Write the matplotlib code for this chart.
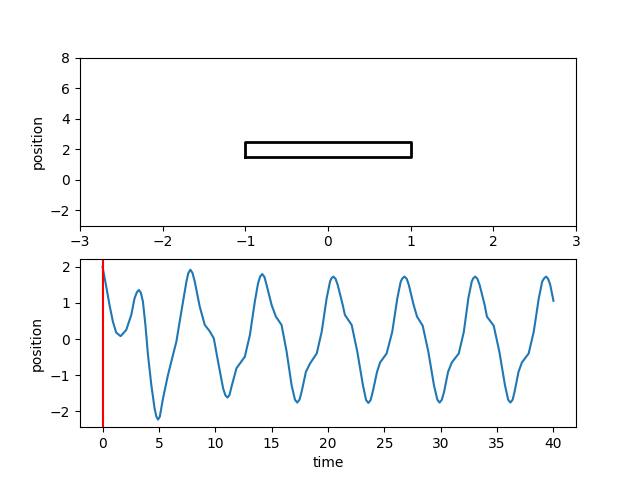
import matplotlib
matplotlib.use("Agg")
import matplotlib.pyplot as plt

# bloque (rectangulo) en el panel superior
bloque_x = [-1, 1, 1, -1, -1]
bloque_y = [1.5, 1.5, 2.5, 2.5, 1.5]

# posicion frente al tiempo
tiempo = [
    0.0, 0.33, 0.62, 0.92, 1.21, 1.6, 2.1, 2.55, 2.84, 3.05, 3.23, 3.4, 3.58, 3.8,
    4.03, 4.33, 4.62, 4.78, 4.92, 5.08, 5.36, 5.8, 6.25, 6.55, 6.99, 7.44, 7.6,
    7.79, 7.98, 8.18, 8.62, 9.07, 9.5, 9.87, 10.25, 10.7, 10.9, 11.08, 11.26,
    11.44, 11.88, 12.18, 12.62, 13.07, 13.51, 13.8, 13.98, 14.16, 14.36, 14.55,
    15.0, 15.38, 15.88, 16.33, 16.77, 17.07, 17.27, 17.47, 17.66, 18.04, 18.4,
    19.0, 19.44, 19.88, 20.18, 20.3, 20.47, 20.67, 20.86, 21.31, 21.5, 22.1,
    22.6, 23.1, 23.38, 23.58, 23.78, 23.97, 24.35, 24.62, 25.2, 25.7, 26.15,
    26.45, 26.6, 26.78, 26.98, 27.17, 27.6, 27.9, 28.4, 28.9, 29.4, 29.7, 29.9,
    30.1, 30.3, 30.65, 30.98, 31.6, 32.05, 32.45, 32.75, 32.88, 33.05, 33.25,
    33.45, 33.9, 34.1, 34.7, 35.2, 35.7, 35.98, 36.18, 36.38, 36.55, 36.9,
    37.2, 37.8, 38.25, 38.7, 39.0, 39.17, 39.35, 39.52, 39.7, 40.0,
]
posicion = [
    2.00, 1.45, 0.94, 0.48, 0.18, 0.08, 0.25, 0.67, 1.13, 1.30, 1.36, 1.28, 1.04, 0.40,
    -0.44, -1.28, -1.93, -2.15, -2.23, -2.15, -1.65, -1.00, -0.44, -0.07, 0.76, 1.59, 1.82,
    1.92, 1.83, 1.59, 0.90, 0.39, 0.22, 0.02, -0.63, -1.37, -1.56, -1.62, -1.55,
    -1.32, -0.81, -0.68, -0.49, 0.11, 1.04, 1.55, 1.73, 1.80, 1.72, 1.50,
    0.94, 0.62, 0.39, -0.35, -1.28, -1.68, -1.76, -1.68, -1.46, -0.91, -0.68,
    -0.40, 0.20, 1.13, 1.59, 1.68, 1.73, 1.67, 1.50, 0.94, 0.67, 0.39,
    -0.35, -1.28, -1.69, -1.77, -1.69, -1.46, -0.91, -0.65, -0.40, 0.20, 1.13,
    1.59, 1.68, 1.73, 1.67, 1.50, 0.94, 0.62, 0.37, -0.35, -1.28, -1.68, -1.76,
    -1.68, -1.46, -0.91, -0.65, -0.40, 0.20, 1.13, 1.59, 1.68, 1.73, 1.67,
    1.50, 0.94, 0.62, 0.37, -0.35, -1.28, -1.68, -1.76, -1.68, -1.46, -0.91,
    -0.65, -0.40, 0.20, 1.13, 1.59, 1.68, 1.73, 1.67, 1.52, 1.06,
]

fig, (ax1, ax2) = plt.subplots(2, 1, figsize=(6.4, 4.8), dpi=100)

ax1.plot(bloque_x, bloque_y, color="k", linewidth=2)
ax1.set_xlim(-3, 3)
ax1.set_ylim(-3, 8)
ax1.set_ylabel("position")

ax2.plot(tiempo, posicion)
ax2.axvline(0, color="r")
ax2.set_xlabel("time")
ax2.set_ylabel("position")

fig.savefig("out.png")
